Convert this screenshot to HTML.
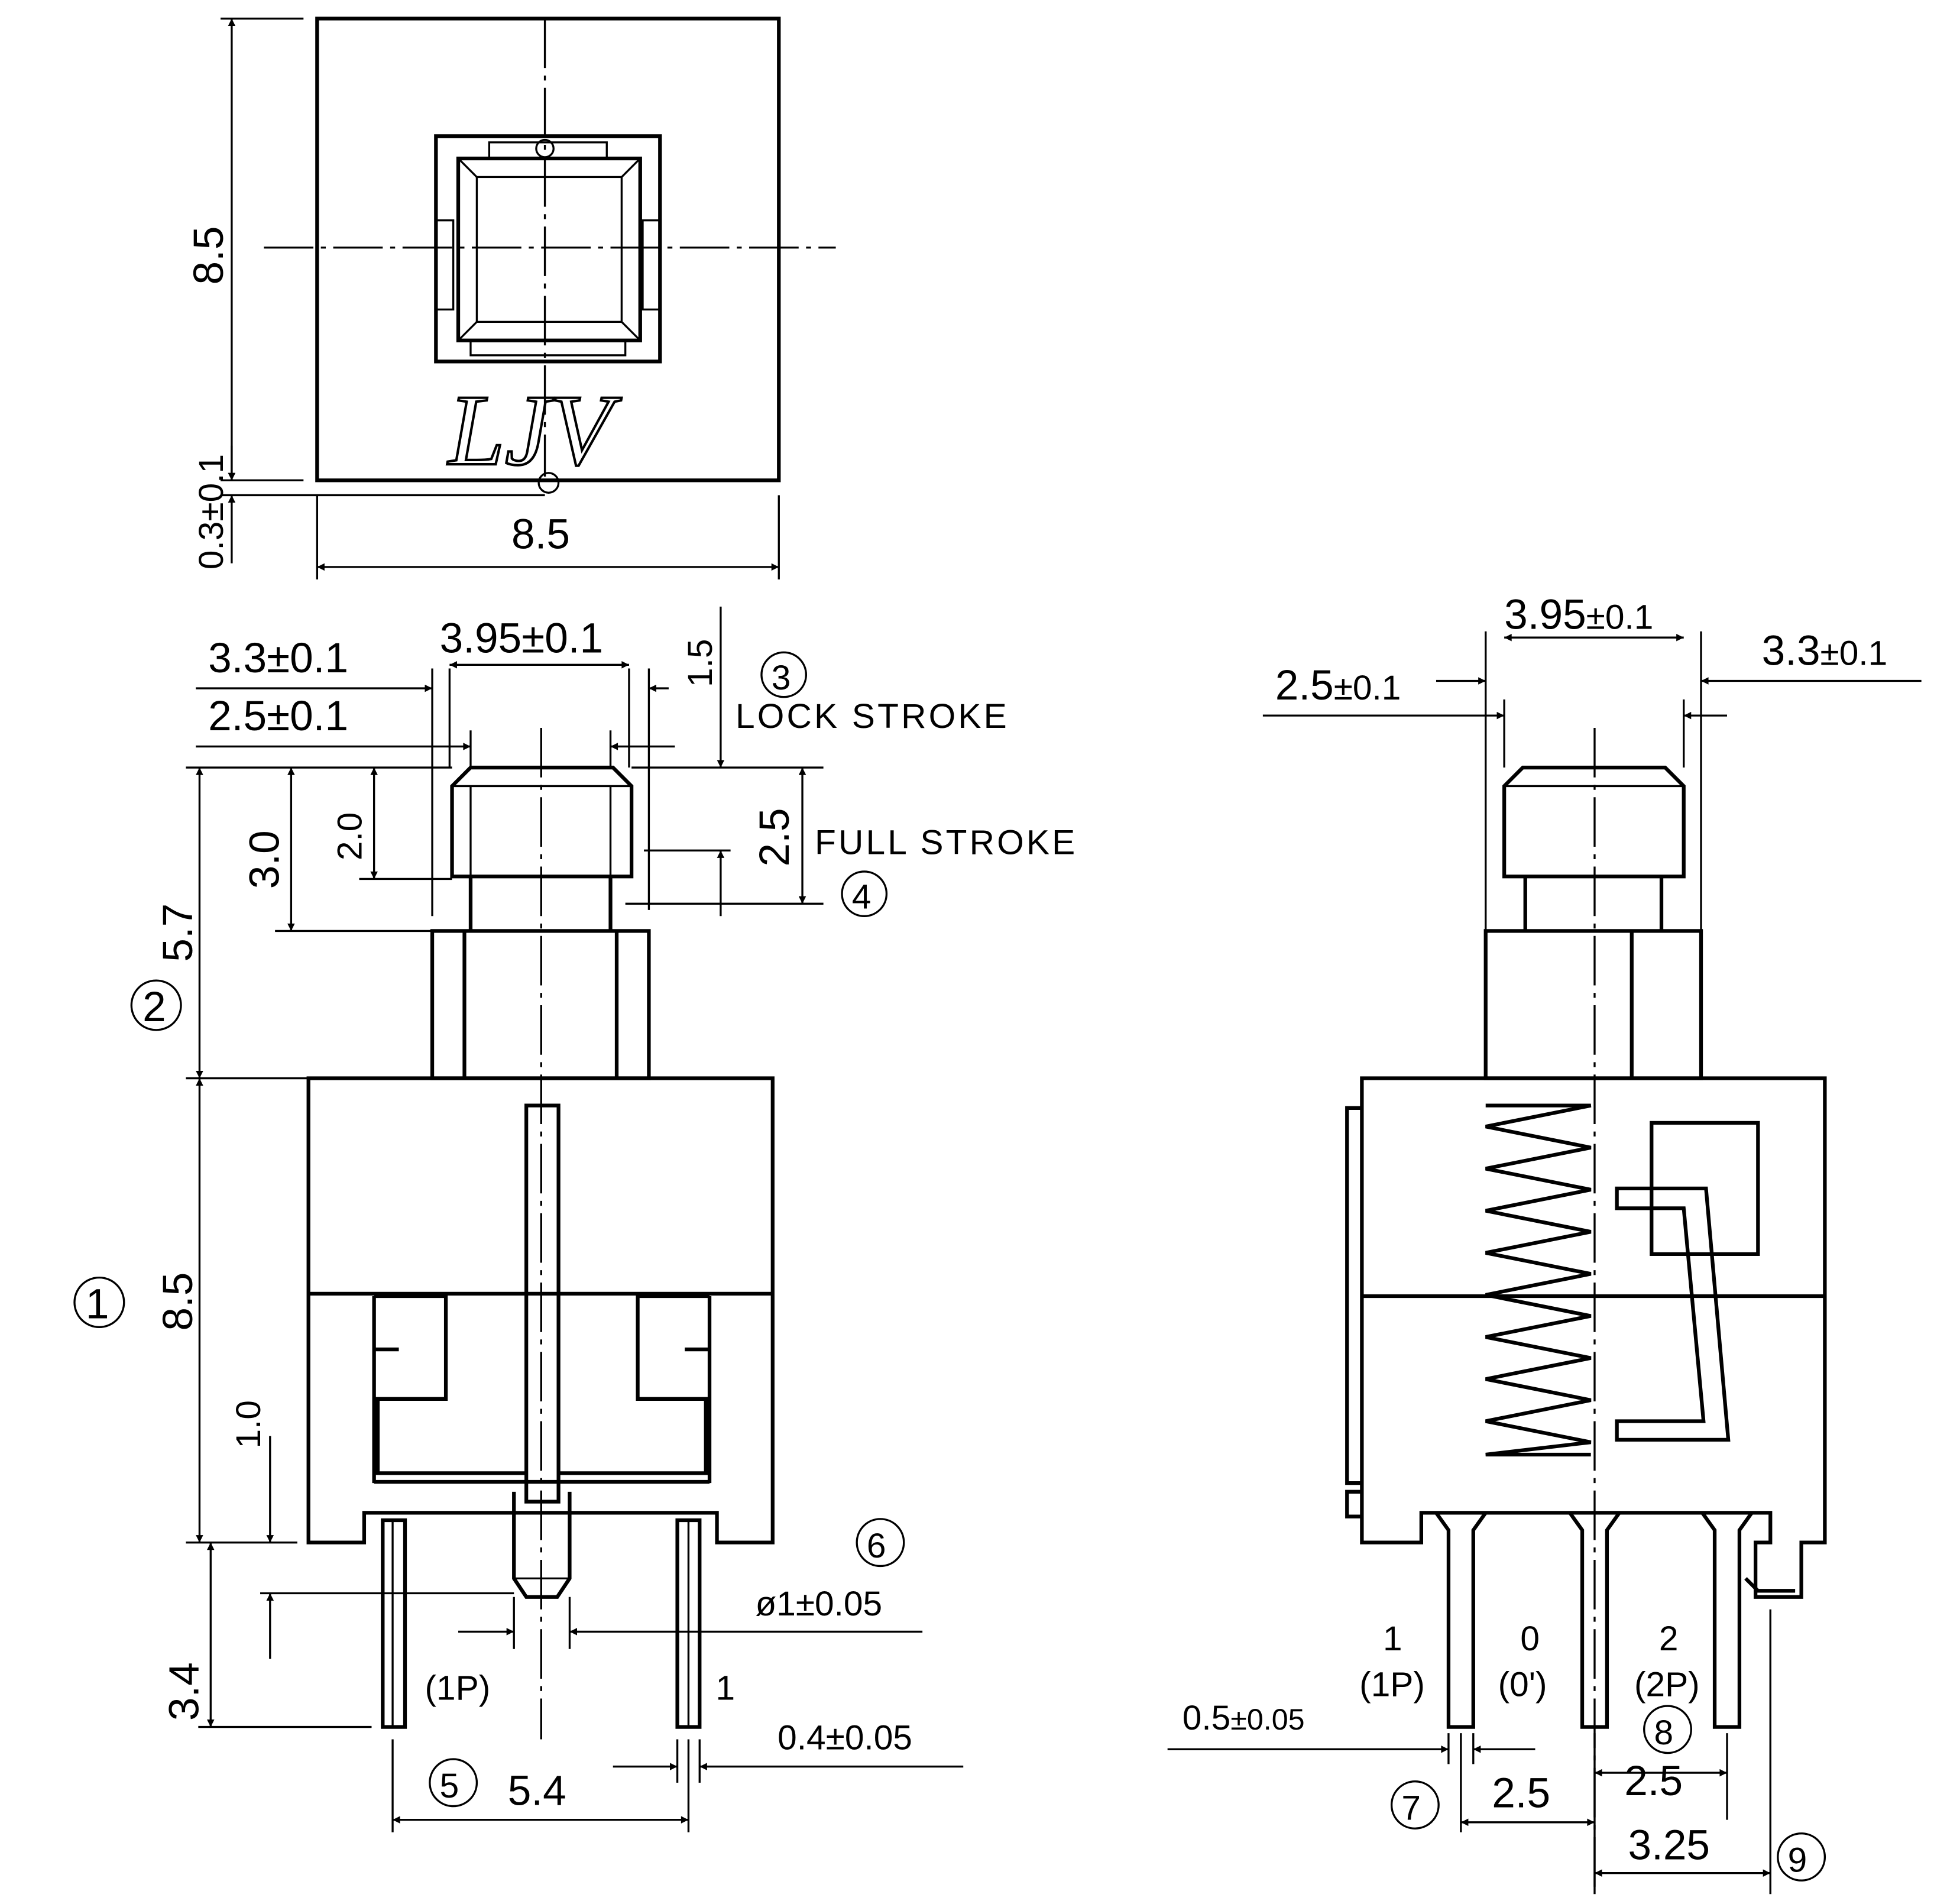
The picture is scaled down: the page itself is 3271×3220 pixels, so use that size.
<!DOCTYPE html>
<html><head><meta charset="utf-8"><style>html,body{margin:0;padding:0;background:#fff}svg{display:block}</style></head>
<body>
<svg width="3271" height="3220" viewBox="0 0 1562 1538" xmlns="http://www.w3.org/2000/svg">
<defs>
<marker id="a" viewBox="0 0 10 10" refX="10" refY="5" markerWidth="14" markerHeight="6" markerUnits="userSpaceOnUse" orient="auto-start-reverse"><path d="M0 0L10 5L0 10z" fill="#000"/></marker>
</defs>
<style>
.s{fill:none;stroke:#000;stroke-width:3}
.t{fill:none;stroke:#000;stroke-width:1.6}
.d{fill:none;stroke:#000;stroke-width:1.6;stroke-dasharray:40 6 4 6}
text{font-family:"Liberation Sans",sans-serif;font-size:34px;fill:#000}
.sm{font-size:28px}
</style>
<!-- TOP VIEW -->
<rect class="s" x="256" y="15" width="373" height="373"/>
<rect class="s" x="352" y="110" width="181" height="182"/>
<rect class="s" x="370" y="128" width="147" height="147"/>
<rect class="t" x="385" y="143" width="117" height="117"/>
<path class="t" d="M370 128L385 143M517 128L502 143M370 275L385 260M517 275L502 260"/>
<rect class="t" x="352" y="178" width="14" height="72"/><rect class="t" x="519" y="178" width="14" height="72"/>
<rect class="t" x="380" y="275" width="125" height="12"/>
<rect class="t" x="395" y="115" width="95" height="13"/>
<circle class="t" cx="440" cy="120" r="7"/>
<circle class="t" cx="443" cy="390" r="8"/>
<path class="d" d="M440 15V385M213 200H675"/>
<text x="362" y="375" style="font-family:'Liberation Serif',serif;font-style:italic;font-size:82px;fill:none;stroke:#000;stroke-width:2">LJV</text>
<path class="t" d="M178 15H245M178 388H245M178 400H440"/>
<line class="t" x1="187" y1="15" x2="187" y2="388" marker-start="url(#a)" marker-end="url(#a)"/>
<line class="t" x1="187" y1="360" x2="187" y2="388" marker-end="url(#a)"/>
<line class="t" x1="187" y1="455" x2="187" y2="400" marker-end="url(#a)"/>
<text transform="translate(180,230) rotate(-90)">8.5</text>
<text transform="translate(180,460) rotate(-90)" class="sm">0.3±0.1</text>
<path class="t" d="M256 400V468M629 400V468"/>
<line class="t" x1="256" y1="458" x2="629" y2="458" marker-start="url(#a)" marker-end="url(#a)"/>
<text x="413" y="443">8.5</text>

<!-- FRONT VIEW LEFT -->
<path class="s" d="M380 620H495L510 635V708H365V635Z"/>
<path class="t" d="M365 635H510M380 635V708M493 635V708"/>
<path class="s" d="M380 708V752M493 708V752"/>
<rect class="s" x="349" y="752" width="175" height="119"/>
<path class="s" d="M375 752V871M498 752V871"/>
<path class="s" d="M249 871H624V1246H579V1222H294V1246H249Z"/>
<path class="s" d="M249 1045H624"/>
<rect class="s" x="425" y="893" width="26" height="320"/>
<path class="s" d="M415 1205V1275L425 1290H450L460 1275V1205"/>
<path class="t" d="M415 1275H460"/>
<path class="s" d="M302 1047H360V1130H305V1190H425M302 1047V1090H322M302 1090V1198"/>
<path class="s" d="M573 1047H515V1130H570V1190H451M573 1047V1090H553M573 1090V1198"/>
<path class="s" d="M302 1197H573"/>
<rect class="s" x="309" y="1228" width="18" height="167"/>
<rect class="s" x="547" y="1228" width="18" height="167"/>
<path class="t" d="M317 1228V1395M556 1228V1395"/>
<path class="d" d="M437 588V1405"/>
<!-- dims -->
<path class="t" d="M150 620H365M222 752H349M150 871H249M150 1246H240M160 1395H300M210 1287H415M290 710H365M505 730H665M520 687H590M510 620H665"/>
<path class="t" d="M349 540V740M363 540V620M524 540V735M508 540V620M380 590V620M493 590V620"/>
<line class="t" x1="363" y1="537" x2="508" y2="537" marker-start="url(#a)" marker-end="url(#a)"/>
<line class="t" x1="158" y1="556" x2="349" y2="556" marker-end="url(#a)"/>
<line class="t" x1="540" y1="556" x2="524" y2="556" marker-end="url(#a)"/>
<line class="t" x1="158" y1="603" x2="380" y2="603" marker-end="url(#a)"/>
<line class="t" x1="545" y1="603" x2="493" y2="603" marker-end="url(#a)"/>
<text x="355" y="527">3.95±0.1</text>
<text x="168" y="543">3.3±0.1</text>
<text x="168" y="590">2.5±0.1</text>
<text transform="translate(575,555) rotate(-90)" class="sm">1.5</text>
<line class="t" x1="582" y1="490" x2="582" y2="620" marker-end="url(#a)"/>
<line class="t" x1="582" y1="740" x2="582" y2="687" marker-end="url(#a)"/>
<line class="t" x1="648" y1="620" x2="648" y2="730" marker-start="url(#a)" marker-end="url(#a)"/>
<text transform="translate(637,700) rotate(-90)">2.5</text>
<circle class="t" cx="633" cy="545" r="18"/><text x="623" y="557" class="sm">3</text>
<text x="594" y="588" class="sm" style="letter-spacing:2px">LOCK STROKE</text>
<text x="658" y="690" class="sm" style="letter-spacing:2px">FULL STROKE</text>
<circle class="t" cx="698" cy="722" r="18"/><text x="688" y="734" class="sm">4</text>
<line class="t" x1="302" y1="620" x2="302" y2="710" marker-start="url(#a)" marker-end="url(#a)"/>
<text transform="translate(292,695) rotate(-90)" class="sm">2.0</text>
<line class="t" x1="235" y1="620" x2="235" y2="752" marker-start="url(#a)" marker-end="url(#a)"/>
<text transform="translate(225,718) rotate(-90)">3.0</text>
<line class="t" x1="161" y1="620" x2="161" y2="871" marker-start="url(#a)" marker-end="url(#a)"/>
<text transform="translate(155,777) rotate(-90)">5.7</text>
<circle class="t" cx="126" cy="812" r="20"/><text x="115" y="825">2</text>
<line class="t" x1="161" y1="871" x2="161" y2="1246" marker-start="url(#a)" marker-end="url(#a)"/>
<text transform="translate(155,1075) rotate(-90)">8.5</text>
<circle class="t" cx="80" cy="1052" r="20"/><text x="69" y="1065">1</text>
<line class="t" x1="218" y1="1160" x2="218" y2="1246" marker-end="url(#a)"/>
<line class="t" x1="218" y1="1340" x2="218" y2="1287" marker-end="url(#a)"/>
<text transform="translate(210,1170) rotate(-90)" class="sm">1.0</text>
<line class="t" x1="170" y1="1246" x2="170" y2="1395" marker-start="url(#a)" marker-end="url(#a)"/>
<text transform="translate(160,1390) rotate(-90)">3.4</text>
<path class="t" d="M415 1290V1332M460 1290V1332"/>
<line class="t" x1="370" y1="1318" x2="415" y2="1318" marker-end="url(#a)"/>
<line class="t" x1="745" y1="1318" x2="460" y2="1318" marker-end="url(#a)"/>
<circle class="t" cx="711" cy="1246" r="19"/><text x="700" y="1258" class="sm">6</text>
<text x="610" y="1305" class="sm">ø1±0.05</text>
<text x="343" y="1373" class="sm">(1P)</text>
<text x="578" y="1373" class="sm">1</text>
<path class="t" d="M317 1405V1480M556 1405V1480M547 1405V1440M565 1405V1440"/>
<line class="t" x1="317" y1="1470" x2="556" y2="1470" marker-start="url(#a)" marker-end="url(#a)"/>
<line class="t" x1="495" y1="1427" x2="547" y2="1427" marker-end="url(#a)"/>
<line class="t" x1="778" y1="1427" x2="565" y2="1427" marker-end="url(#a)"/>
<text x="628" y="1413" class="sm">0.4±0.05</text>
<text x="410" y="1458">5.4</text>
<circle class="t" cx="366" cy="1440" r="19"/><text x="355" y="1452" class="sm">5</text>

<!-- SIDE VIEW RIGHT -->
<path class="s" d="M1230 620H1345L1360 635V708H1215V635Z"/>
<path class="t" d="M1215 635H1360"/>
<path class="s" d="M1232 708V752M1342 708V752"/>
<rect class="s" x="1200" y="752" width="174" height="119"/>
<path class="s" d="M1318 752V871"/>
<path class="s" d="M1100 871H1474V1246H1455V1290H1418V1246H1430V1222H1148V1246H1100Z"/>
<path class="s" d="M1100 1047H1474"/>
<path class="s" d="M1100 895H1088V1198H1100M1100 1205H1088V1225H1100"/>
<path class="s" d="M1410 1275L1420 1285H1450"/>
<path class="s" d="M1200 893H1285L1200 910L1285 927L1200 944L1285 961L1200 978L1285 995L1200 1012L1285 1029L1200 1046L1285 1063L1200 1080L1285 1097L1200 1114L1285 1131L1200 1148L1285 1165L1200 1175H1285"/>
<rect class="s" x="1334" y="907" width="86" height="106"/>
<path class="s" d="M1306 960H1378L1396 1163H1306V1148H1376L1360 976H1306Z"/>
<path class="s" d="M1160 1222L1170 1236V1395H1190V1236L1200 1222M1268 1222L1278 1236V1395H1298V1236L1308 1222M1375 1222L1385 1236V1395H1405V1236L1415 1222"/>
<path class="d" d="M1288 588V1530"/>
<text x="1117" y="1333" class="sm">1</text><text x="1228" y="1333" class="sm">0</text><text x="1340" y="1333" class="sm">2</text>
<text x="1098" y="1370" class="sm">(1P)</text><text x="1210" y="1370" class="sm">(0')</text><text x="1320" y="1370" class="sm">(2P)</text>
<path class="t" d="M1200 510V752M1374 510V752M1215 565V620M1360 565V620"/>
<line class="t" x1="1215" y1="515" x2="1360" y2="515" marker-start="url(#a)" marker-end="url(#a)"/>
<text x="1215" y="508">3.95<tspan class="sm">±0.1</tspan></text>
<line class="t" x1="1160" y1="550" x2="1200" y2="550" marker-end="url(#a)"/>
<line class="t" x1="1552" y1="550" x2="1374" y2="550" marker-end="url(#a)"/>
<line class="t" x1="1020" y1="578" x2="1215" y2="578" marker-end="url(#a)"/>
<line class="t" x1="1395" y1="578" x2="1360" y2="578" marker-end="url(#a)"/>
<text x="1030" y="565">2.5<tspan class="sm">±0.1</tspan></text>
<text x="1423" y="537">3.3<tspan class="sm">±0.1</tspan></text>
<path class="t" d="M1180 1400V1480M1170 1400V1425M1190 1400V1425M1288 1400V1530M1395 1400V1470M1430 1300V1530"/>
<line class="t" x1="943" y1="1413" x2="1170" y2="1413" marker-end="url(#a)"/>
<line class="t" x1="1240" y1="1413" x2="1190" y2="1413" marker-end="url(#a)"/>
<text x="955" y="1397" class="sm">0.5<tspan style="font-size:24px">±0.05</tspan></text>
<circle class="t" cx="1143" cy="1458" r="19"/><text x="1132" y="1470" class="sm">7</text>
<circle class="t" cx="1347" cy="1397" r="19"/><text x="1336" y="1409" class="sm">8</text>
<line class="t" x1="1180" y1="1472" x2="1288" y2="1472" marker-start="url(#a)" marker-end="url(#a)"/>
<text x="1205" y="1460">2.5</text>
<line class="t" x1="1288" y1="1432" x2="1395" y2="1432" marker-start="url(#a)" marker-end="url(#a)"/>
<text x="1312" y="1450">2.5</text>
<line class="t" x1="1288" y1="1513" x2="1430" y2="1513" marker-start="url(#a)" marker-end="url(#a)"/>
<text x="1315" y="1502">3.25</text>
<circle class="t" cx="1455" cy="1500" r="19"/><text x="1444" y="1512" class="sm">9</text>
</svg>
</body></html>
